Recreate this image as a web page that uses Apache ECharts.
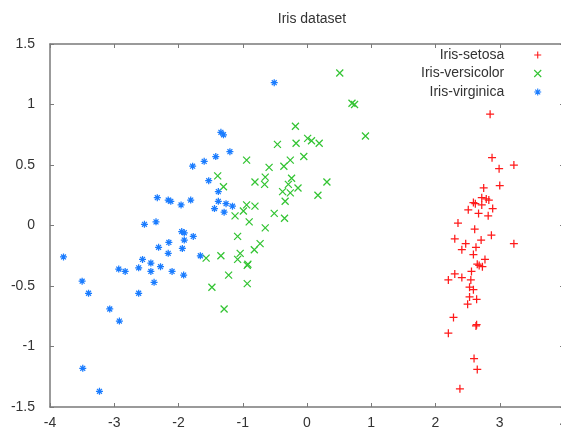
<!DOCTYPE html>
<html><head><meta charset="utf-8">
<script src="https://cdn.jsdelivr.net/npm/echarts@6/dist/echarts.min.js"></script>
<style>html,body{margin:0;padding:0;background:#fff}#c{width:561px;height:432px}</style>
</head><body><div id="c"></div>
<script>
const titleText = 'Iris dataset';
const seriesNames = ['Iris-setosa', 'Iris-versicolor', 'Iris-virginica'];
const xTicks = { min: -4, max: 4, step: 1 };
const yTicks = { min: -1.5, max: 1.5, step: 0.5 };

const setosa = [
  [2.85,0.92],[2.88,0.56],[2.99,0.47],[3.22,0.50],[3.00,0.33],[2.75,0.31],[2.72,0.23],[2.79,0.22],
  [2.83,0.21],[2.59,0.19],[2.62,0.18],[2.72,0.17],[2.51,0.13],[2.89,0.14],[2.67,0.10],[2.82,0.08],
  [2.35,0.02],[2.61,-0.03],[2.30,-0.11],[2.87,-0.08],[3.22,-0.15],[2.47,-0.15],[2.71,-0.12],[2.63,-0.18],
  [2.41,-0.20],[2.59,-0.24],[2.77,-0.28],[2.65,-0.32],[2.68,-0.33],[2.73,-0.34],[2.56,-0.38],[2.30,-0.40],
  [2.41,-0.43],[2.20,-0.45],[2.55,-0.45],[2.53,-0.51],[2.59,-0.53],[2.53,-0.59],[2.64,-0.61],[2.50,-0.65],
  [2.28,-0.76],[2.63,-0.83],[2.64,-0.82],[2.20,-0.89],[2.60,-1.10],[2.65,-1.19],[2.38,-1.35]
];
const versicolor = [
  [0.51,1.26],[0.70,1.01],[0.74,1.00],[0.91,0.74],[-0.18,0.82],[-0.46,0.67],[-0.17,0.68],[0.01,0.72],
  [0.07,0.70],[0.19,0.68],[-0.05,0.57],[-0.26,0.54],[-0.36,0.49],[-0.94,0.54],[-0.59,0.48],[-0.65,0.40],
  [-0.81,0.36],[-0.66,0.34],[-0.24,0.39],[-0.29,0.34],[-0.14,0.31],[-0.38,0.28],[-0.26,0.27],[0.31,0.36],
  [0.17,0.25],[-0.34,0.20],[-1.39,0.41],[-1.30,0.32],[-0.94,0.17],[-0.81,0.16],
  [-0.99,0.12],[-1.12,0.08],[-0.90,0.03],[-0.51,0.10],[-0.35,0.06],[-0.65,-0.02],[-1.08,-0.09],[-0.73,-0.15],
  [-0.82,-0.20],[-1.04,-0.23],[-1.34,-0.25],[-1.57,-0.27],[-1.08,-0.28],[-0.93,-0.33],[-0.92,-0.32],[-1.22,-0.41],
  [-1.48,-0.51],[-0.93,-0.48],[-1.29,-0.69]
];
const virginica = [
  [-0.51,1.18],[-1.34,0.77],[-1.30,0.75],[-1.20,0.61],[-1.42,0.57],[-1.60,0.53],[-1.78,0.49],[-1.53,0.37],
  [-1.38,0.28],[-1.81,0.21],[-1.96,0.17],[-1.38,0.20],[-1.26,0.18],[-1.16,0.16],[-1.44,0.14],[-1.29,0.11],
  [-1.77,-0.09],[-1.66,-0.25],[-2.33,0.23],[-2.16,0.21],[-2.12,0.20],[-2.53,0.01],[-2.35,0.03],[-1.95,-0.05],
  [-1.91,-0.06],[-1.91,-0.12],[-2.15,-0.14],[-2.31,-0.18],[-2.16,-0.23],[-1.94,-0.19],[-3.79,-0.26],[-2.56,-0.28],
  [-2.43,-0.31],[-2.93,-0.36],[-2.83,-0.38],[-2.62,-0.35],[-2.43,-0.38],[-2.28,-0.34],[-2.10,-0.38],[-1.92,-0.41],
  [-2.38,-0.47],[-3.50,-0.46],[-3.40,-0.56],[-2.62,-0.56],[-3.07,-0.69],[-2.92,-0.79],[-3.49,-1.18],[-3.23,-1.37]
];

const PLUS = 'path://M0,5H10M5,0V10';
const CROSS = 'path://M0,0L10,10M10,0L0,10';
const STAR = 'path://M0,5H10M5,0V10M1.5,1.5L8.5,8.5M8.5,1.5L1.5,8.5';
const FONT = 'Liberation Sans';
const AX = '#7a7a7a';

const chart = echarts.init(document.getElementById('c'), null, { renderer: 'canvas' });

function xAxisDef(pos, labels) {
  return {
    type: 'value', position: pos, min: xTicks.min, max: xTicks.max, interval: xTicks.step,
    axisLine: { show: true, onZero: false, lineStyle: { color: AX, width: 1.5 } },
    axisTick: { show: true, inside: true, length: 4, lineStyle: { color: AX, width: 1 } },
    axisLabel: { show: labels, color: '#333', fontSize: 14, fontFamily: FONT, margin: 9 },
    splitLine: { show: false }
  };
}
function yAxisDef(pos, labels) {
  return {
    type: 'value', position: pos, min: yTicks.min, max: yTicks.max, interval: yTicks.step,
    axisLine: { show: true, onZero: false, lineStyle: { color: AX, width: 1.5 } },
    axisTick: { show: true, inside: true, length: 4, lineStyle: { color: AX, width: 1 } },
    axisLabel: { show: labels, color: '#333', fontSize: 14, fontFamily: FONT, margin: 15 },
    splitLine: { show: false }
  };
}
function sc(name, data, sym, color, size) {
  return {
    name, type: 'scatter', data, symbol: sym, symbolSize: size, color: color,
    itemStyle: { color: color, borderColor: color, borderWidth: 1.25, opacity: 1 },
    emphasis: { disabled: true },
    select: { disabled: true },
    progressive: 0
  };
}

chart.setOption({
  animation: false,
  backgroundColor: '#fff',
  title: {
    text: titleText, left: 307, top: 7, textAlign: 'center',
    textStyle: { fontSize: 14, fontWeight: 'normal', color: '#333', fontFamily: FONT }
  },
  grid: { left: 50, top: 44, width: 514, height: 363, containLabel: false, outerBoundsMode: 'none' },
  legend: {
    orient: 'vertical', left: 421, top: 48, align: 'right', padding: 0,
    itemWidth: 57, itemHeight: 7, itemGap: 4.5,
    itemStyle: { borderWidth: 1.1 },
    textStyle: { fontSize: 14, color: '#333', fontFamily: FONT, lineHeight: 14 },
    data: seriesNames
  },
  xAxis: [xAxisDef('bottom', true), xAxisDef('top', false)],
  yAxis: [yAxisDef('left', true), yAxisDef('right', false)],
  series: [
    sc(seriesNames[0], setosa, PLUS, '#ff1a1a', 8),
    sc(seriesNames[1], versicolor, CROSS, '#33c433', 7),
    sc(seriesNames[2], virginica, STAR, '#1a7cff', 7)
  ]
});
</script></body></html>
